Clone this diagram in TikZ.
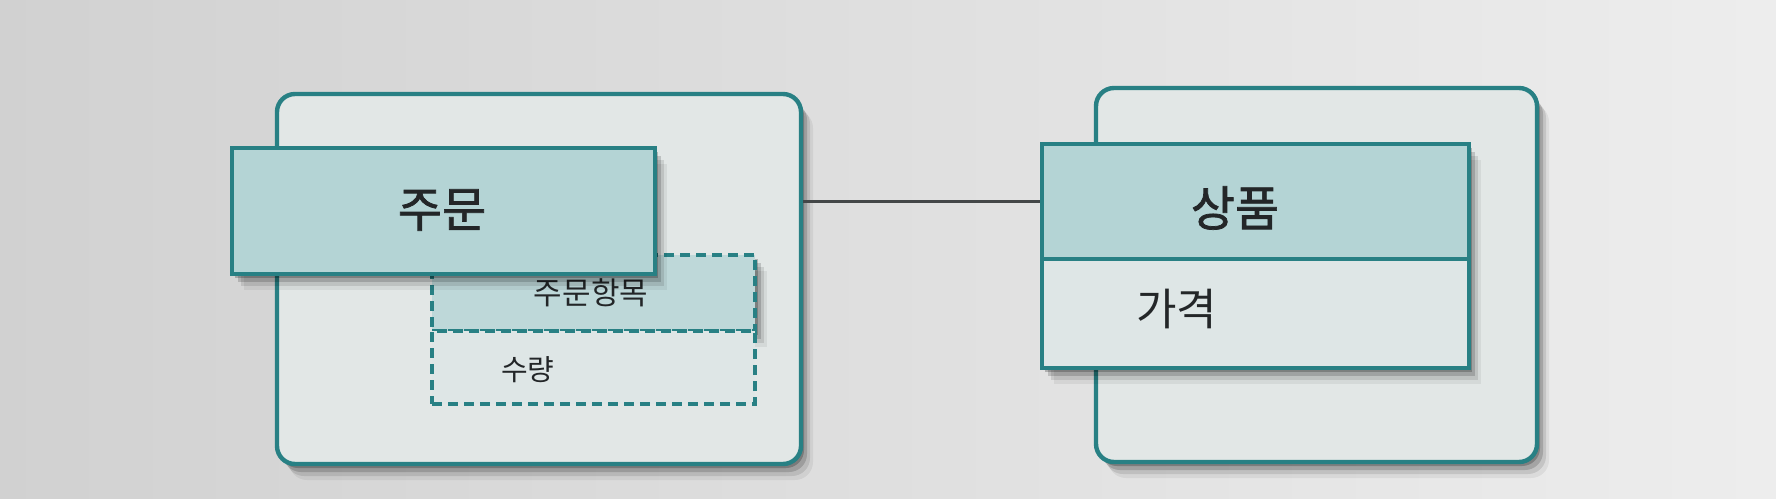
\documentclass[tikz,border=0pt]{standalone}
\usepackage{fontspec}
\newfontfamily\kr{Noto Sans CJK KR}
\newfontfamily\krb{Noto Sans CJK KR}[FakeBold=1.5]
\usetikzlibrary{shadows}
\definecolor{bord}{RGB}{40,128,132}
\definecolor{hdr}{RGB}{180,212,213}
\definecolor{bodyc}{RGB}{222,230,230}
\definecolor{outerc}{RGB}{226,231,230}
\definecolor{dashtop}{RGB}{190,216,217}
\definecolor{ink}{RGB}{35,38,40}
\tikzset{
  softshadow/.style={
    drop shadow={shadow xshift=1.5pt,shadow yshift=-2pt,opacity=0.22,fill=black},
    drop shadow={shadow xshift=3pt,shadow yshift=-4pt,opacity=0.16,fill=black},
    drop shadow={shadow xshift=4.5pt,shadow yshift=-6pt,opacity=0.10,fill=black},
    drop shadow={shadow xshift=6pt,shadow yshift=-8pt,opacity=0.06,fill=black}},
  outerbox/.style={draw=bord,line width=2.2pt,fill=outerc,rounded corners=9pt,inner sep=0pt,softshadow},
  hdrbox/.style={draw=bord,line width=2.2pt,fill=hdr,inner sep=0pt},
  bodybox/.style={draw=bord,line width=2.2pt,fill=bodyc,inner sep=0pt},
  dbox/.style={draw=bord,line width=2pt,dash pattern=on 5pt off 3pt,inner sep=0pt},
  bigtxt/.style={font=\krb\fontsize{24}{28}\selectfont,text=ink},
  midtxt/.style={font=\kr\fontsize{22}{26}\selectfont,text=ink},
  smalltxt/.style={font=\kr\fontsize{14.5}{18}\selectfont,text=ink},
  link/.style={draw=ink!85,line width=1.1pt}
}
\begin{document}
\begin{tikzpicture}[x=0.5pt,y=-0.5pt]
\shade[left color=black!18,right color=black!7] (0,0) rectangle (1776,498);
\useasboundingbox (0,0) rectangle (1776,498);
% left group
\node[outerbox,minimum width=262pt,minimum height=185pt] (lo) at (539,279) {};
\node[bodybox,dbox,fill=dashtop,minimum width=161.5pt,minimum height=38pt,softshadow] (oit) at (593.5,293) {};
\node[dbox,fill=bodyc,minimum width=161.5pt,minimum height=36.5pt] (oib) at (593.5,367.5) {};
\node[smalltxt,font=\kr\fontsize{15.5}{19}\selectfont] (oitxt) at (591,293) {주문항목};
\node[smalltxt,anchor=west] (qty) at (494,370) {수량};
\node[hdrbox,softshadow,minimum width=211.5pt,minimum height=63pt] (ord) at (443.5,211) {};
\node[bigtxt] (ordtxt) at (442,210) {주문};
% right group
\node[outerbox,minimum width=220.5pt,minimum height=187pt] (ro) at (1316.5,275) {};
\node[hdrbox,softshadow,minimum width=213.5pt,minimum height=112pt,fill=bodyc] (prdall) at (1255.5,256) {};
\node[hdrbox,minimum width=213.5pt,minimum height=57.5pt] (prd) at (1255.5,201.5) {};
\node[bigtxt] (prdtxt) at (1235,208) {상품};
\node[midtxt,anchor=west] (price) at (1129,309) {가격};
% connector
\draw[link] (prd.west -| lo.east) -- (prd.west);
\end{tikzpicture}
\end{document}
